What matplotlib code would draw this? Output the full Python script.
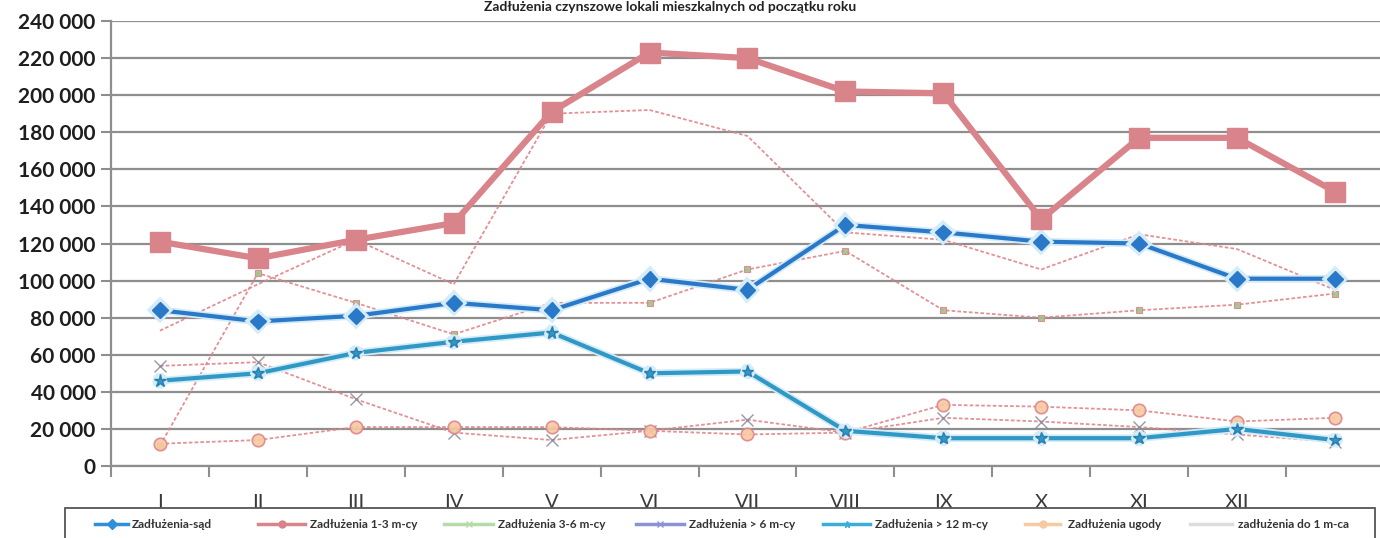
"""Rent arrears of residential units since the start of the year."""
import matplotlib
matplotlib.use("Agg")
import matplotlib.pyplot as plt
import matplotlib.patheffects as pe
from matplotlib.lines import Line2D
from matplotlib.patches import Rectangle
from matplotlib.ticker import FuncFormatter, FixedLocator

plt.rcParams['font.family'] = ['Lato', 'DejaVu Sans']

title = "Zadłużenia czynszowe lokali mieszkalnych od początku roku"
months = ['I', 'II', 'III', 'IV', 'V', 'VI', 'VII', 'VIII', 'IX', 'X', 'XI', 'XII', '']

sad = [84000, 78000, 81000, 88000, 84000, 101000, 95000, 130000, 126000, 121000, 120000, 101000, 101000]
m1_3 = [121000, 112000, 122000, 131000, 191000, 223000, 220000, 202000, 201000, 133000, 177000, 177000, 148000]
m3_6 = [11000, 104000, 88000, 71000, 88000, 88000, 106000, 116000, 84000, 80000, 84000, 87000, 93000]
m6 = [54000, 56000, 36000, 18000, 14000, 19000, 25000, 18000, 26000, 24000, 21000, 17000, 13000]
m12 = [46000, 50000, 61000, 67000, 72000, 50000, 51000, 19000, 15000, 15000, 15000, 20000, 14000]
ugody = [12000, 14000, 21000, 21000, 21000, 19000, 17000, 18000, 33000, 32000, 30000, 24000, 26000]
do1 = [73000, 98000, 122000, 98000, 190000, 192000, 178000, 126000, 122000, 106000, 125000, 117000, 95000]

labels = ['Zadłużenia-sąd', 'Zadłużenia 1-3 m-cy', 'Zadłużenia 3-6 m-cy',
          'Zadłużenia > 6 m-cy', 'Zadłużenia > 12 m-cy', 'Zadłużenia ugody',
          'zadłużenia do 1 m-ca']

W, H = 1380, 538
fig = plt.figure(figsize=(W / 100, H / 100), dpi=100)
ax = fig.add_axes([111 / W, 72 / H, 1 - 111 / W, 445 / H])

x = list(range(len(months)))
thin = dict(color='#e0858b', lw=1.3, ls=(0, (2, 1.2)), alpha=0.9)

# thin series (printed as speckled red lines)
ax.plot(x, do1, **thin, zorder=2)
ax.plot(x, m3_6, **thin, marker='s', ms=5, mfc='#9cc58a', mec='#e0858b', mew=0.8, zorder=2)
ax.plot(x, m6, **thin, marker='x', ms=9, mec='#8c8c9c', mew=1.0, zorder=2)
ax.plot(x, ugody, **thin, marker='o', ms=9, mfc='#f6c9a0', mec='#e0858b', mew=1.2, zorder=2)

# heavy series, the blue ones with a soft halo
halo = [pe.Stroke(linewidth=5.5, foreground='#d4ebf8'), pe.Normal()]
ax.plot(x, m12, color='#2f98c4', lw=3.0, marker='*', ms=9, mec='#2a7fb0',
        path_effects=halo, zorder=3)
ax.plot(x, sad, color='#2a78c8', lw=3.0, marker='D', ms=8,
        path_effects=halo, zorder=4)
ax.plot(x, m1_3, color='#d9838b', lw=4.5, marker='s', ms=14, zorder=5)

ax.set_xlim(-0.5, 12.46)
ax.set_ylim(0, 240000)
ax.set_yticks(range(0, 240001, 20000))
ax.yaxis.set_major_formatter(FuncFormatter(lambda v, p: f"{v:,.0f}".replace(',', ' ')))
ax.grid(axis='y', color='#8e8e8e', lw=1.6)
ax.set_axisbelow(True)

ax.set_xticks(x)
ax.set_xticklabels(months)
ax.xaxis.set_minor_locator(FixedLocator([i - 0.5 for i in range(len(months) + 1)]))
ax.tick_params(axis='x', which='major', length=0, pad=20, labelsize=14.5, labelcolor='#3a3a3a')
ax.tick_params(axis='x', which='minor', length=8, width=1.5, color='#8e8e8e')
ax.tick_params(axis='y', length=7, width=1.5, color='#8e8e8e', pad=4,
               labelsize=15, labelcolor='#1e1e1e')
for lab in ax.get_yticklabels():
    lab.set_fontweight('bold')

for s in ['top', 'right']:
    ax.spines[s].set_visible(False)
ax.spines['left'].set_color('#8e8e8e')
ax.spines['left'].set_linewidth(1.6)
ax.spines['bottom'].set_color('#8e8e8e')
ax.spines['bottom'].set_linewidth(1.6)

fig.text(670 / W, 1 - 1 / H, title, ha='center', va='top',
         fontsize=10, fontweight='bold', color='#222222')

# legend box along the bottom edge
fig.patches.append(Rectangle((65 / W, -0.05), 1310 / W, 0.05 + 30 / H,
                             transform=fig.transFigure, fill=False,
                             ec='#555555', lw=1.3))
handle_colors = ['#2f8fd8', '#d9838b', '#b5dca8', '#8b93d6', '#3aaed8', '#f6c9a0', '#dcdcdc']
handle_markers = ['D', 'o', 'x', 'x', '*', 'o', None]
entry_x = [(95, 128, 132), (258, 305, 310), (444, 493, 498), (636, 684, 689),
           (823, 870, 875), (1025, 1060, 1068), (1190, 1232, 1238)]
ly = 1 - 524 / H
for lab, c, m, (x0, x1, xt) in zip(labels, handle_colors, handle_markers, entry_x):
    fig.lines.append(Line2D([x0 / W, x1 / W], [ly, ly], transform=fig.transFigure,
                            color=c, lw=2.5))
    if m:
        fig.lines.append(Line2D([(x0 + x1) / 2 / W], [ly], transform=fig.transFigure,
                                color=c, marker=m, ms=5))
    fig.text(xt / W, ly, lab, ha='left', va='center', fontsize=8.5,
             fontweight='bold', color='#333333')

fig.savefig('out.png', dpi=100)
